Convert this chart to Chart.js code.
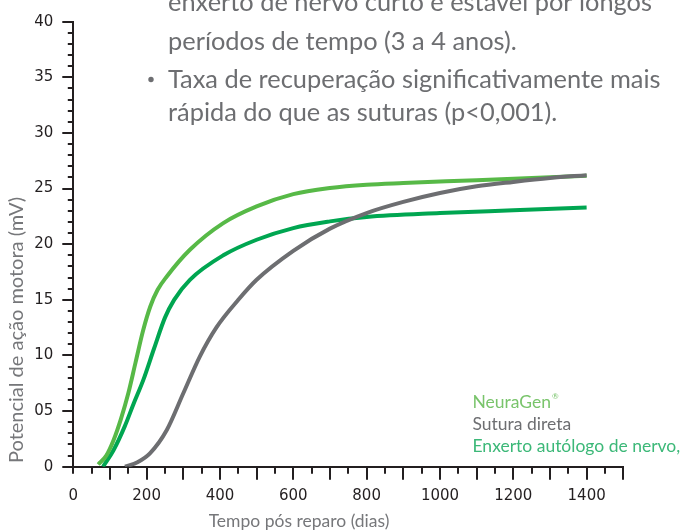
<!DOCTYPE html>
<html>
<head>
<meta charset="utf-8">
<script src="https://cdn.jsdelivr.net/npm/chart.js@4/dist/chart.umd.min.js"></script>
<style>
html,body{margin:0;padding:0;background:#fff;}
#wrap{position:relative;width:684px;height:531px;}
</style>
</head>
<body>
<div id="wrap"><canvas id="c" width="684" height="531"></canvas></div>
<script>
// ---- data ----
const seriesNames = ['NeuraGen', 'Sutura direta', 'Enxerto autólogo de nervo,'];
const neuraGenDays = [68, 90, 110, 130, 150, 170, 190, 210, 230, 255, 318, 409, 500, 600, 700, 800, 900, 1100, 1400];
const neuraGenMV   = [0.2, 1.0, 2.4, 4.3, 6.6, 9.4, 12.2, 14.4, 15.9, 17.1, 19.5, 21.9, 23.4, 24.5, 25.05, 25.35, 25.5, 25.75, 26.15];
const suturaDays   = [141, 175, 209, 255, 300, 345, 390, 450, 500, 600, 700, 800, 900, 1000, 1100, 1200, 1300, 1400];
const suturaMV     = [0, 0.4, 1.2, 3.3, 6.6, 9.9, 12.5, 15.0, 16.8, 19.4, 21.4, 22.8, 23.8, 24.6, 25.2, 25.6, 25.95, 26.2];
const enxertoDays  = [81, 110, 140, 165, 191, 220, 250, 275, 318, 409, 500, 600, 700, 800, 1000, 1200, 1400];
const enxertoMV    = [0, 1.5, 3.6, 5.7, 7.8, 10.6, 13.4, 15.0, 16.8, 19.0, 20.4, 21.45, 22.05, 22.45, 22.8, 23.05, 23.3];
const xLabelValues = [0, 200, 400, 600, 800, 1000, 1200, 1400];
const yLabelValues = [0, 5, 10, 15, 20, 25, 30, 35, 40];
const yLabelTexts  = ['0', '05', '10', '15', '20', '25', '30', '35', '40'];
const xTitle = 'Tempo pós reparo (dias)';
const yTitle = 'Potencial de ação motora (mV)';
const noteLines = [
  {bullet: false, text: 'enxerto de nervo curto e estável por longos'},
  {bullet: false, text: 'períodos de tempo (3 a 4 anos).'},
  {bullet: true,  text: 'Taxa de recuperação significativamente mais'},
  {bullet: false, text: 'rápida do que as suturas (p<0,001).'}
];

const toPts = (xs, ys) => xs.map((x, i) => ({x: x, y: ys[i]}));

const GRAY = '#6d6e71';
const TITLE_GRAY = '#76777a';
const INK = '#231f20';
const lineColors = ['#57b947', '#6d6e71', '#00a651'];
const legendColors = ['#79c46b', '#6d6e71', '#3cb878'];

const PLOT = {left: 73.3, right: 623.3, top: 21.7, bottom: 466.7};

const decor = {
  id: 'decor',
  afterDraw(chart) {
    const ctx = chart.ctx;
    const xs = chart.scales.x, ys = chart.scales.y;
    ctx.save();
    // tick marks
    ctx.strokeStyle = INK;
    ctx.lineWidth = 2;
    ctx.beginPath();
    xs.ticks.forEach(t => {
      const px = Math.round(xs.getPixelForValue(t.value));
      const len = (t.value % 100 === 0 && t.value !== 0) ? 13 : 7;
      ctx.moveTo(px, ys.bottom);
      ctx.lineTo(px, ys.bottom + len);
    });
    ys.ticks.forEach(t => {
      const py = Math.round(ys.getPixelForValue(t.value)) ;
      const len = (t.value % 5 === 0) ? 11 : 5.5;
      ctx.moveTo(xs.left, py);
      ctx.lineTo(xs.left - len, py);
    });
    ctx.stroke();

    // axis titles
    ctx.fillStyle = TITLE_GRAY;
    ctx.font = '17.5px Lato';
    ctx.textAlign = 'center';
    ctx.textBaseline = 'alphabetic';
    ctx.fillText(xTitle, 299, 527);
    ctx.save();
    ctx.translate(23, 463);
    ctx.rotate(-Math.PI / 2);
    ctx.textAlign = 'left';
    ctx.font = '20px Lato';
    ctx.fillText(yTitle, 0, 0);
    ctx.restore();

    // legend
    ctx.textAlign = 'left';
    ctx.font = '17.5px Lato';
    const legBase = [408, 430, 452];
    chart.data.datasets.forEach((ds, i) => {
      ctx.fillStyle = legendColors[i];
      ctx.fillText(ds.label, 472.5, legBase[i]);
      if (i === 0) {
        const w = ctx.measureText(ds.label).width;
        ctx.font = '8px Lato';
        ctx.fillText('®', 472.5 + w + 1, legBase[i] - 9);
        ctx.font = '17.5px Lato';
      }
    });

    // note text
    ctx.fillStyle = GRAY;
    ctx.font = '25.4px Lato';
    const baselines = [11, 50, 88, 121];
    noteLines.forEach((l, i) => {
      ctx.fillText(l.text, 168, baselines[i]);
      if (l.bullet) {
        ctx.beginPath();
        ctx.arc(151, baselines[i] - 8.5, 2.7, 0, Math.PI * 2);
        ctx.fill();
      }
    });
    ctx.restore();
  }
};

const mkDs = (i, pts, order) => ({
  label: seriesNames[i],
  data: pts,
  borderColor: lineColors[i],
  borderWidth: 4,
  pointRadius: 0,
  fill: false,
  cubicInterpolationMode: 'monotone',
  borderCapStyle: 'butt',
  order: order
});

new Chart(document.getElementById('c'), {
  type: 'line',
  data: {
    datasets: [
      mkDs(0, toPts(neuraGenDays, neuraGenMV), 1),
      mkDs(1, toPts(suturaDays, suturaMV), 0),
      mkDs(2, toPts(enxertoDays, enxertoMV), 1)
    ]
  },
  options: {
    responsive: false,
    animation: false,
    devicePixelRatio: 1,
    layout: {padding: {left: 0, top: PLOT.top, right: 684 - PLOT.right, bottom: 0}},
    plugins: {legend: {display: false}, tooltip: {enabled: false}, title: {display: false}},
    scales: {
      x: {
        type: 'linear', min: 0, max: 1500,
        grid: {display: false},
        border: {display: true, color: INK, width: 2},
        ticks: {
          stepSize: 50, autoSkip: false, maxRotation: 0, minRotation: 0,
          padding: 12, color: INK,
          font: {family: 'DejaVu Sans', size: 15},
          callback: v => xLabelValues.includes(v) ? String(v) : ''
        },
        afterFit: s => { s.height = 531 - PLOT.bottom; }
      },
      y: {
        type: 'linear', min: 0, max: 40,
        grid: {display: false},
        border: {display: true, color: INK, width: 2},
        ticks: {
          stepSize: 1, autoSkip: false, padding: 12, color: INK,
          font: {family: 'DejaVu Sans', size: 15},
          callback: v => { const k = yLabelValues.indexOf(v); return k >= 0 ? yLabelTexts[k] : ''; }
        },
        afterFit: s => { s.width = PLOT.left; }
      }
    }
  },
  plugins: [decor]
});
</script>
</body>
</html>
